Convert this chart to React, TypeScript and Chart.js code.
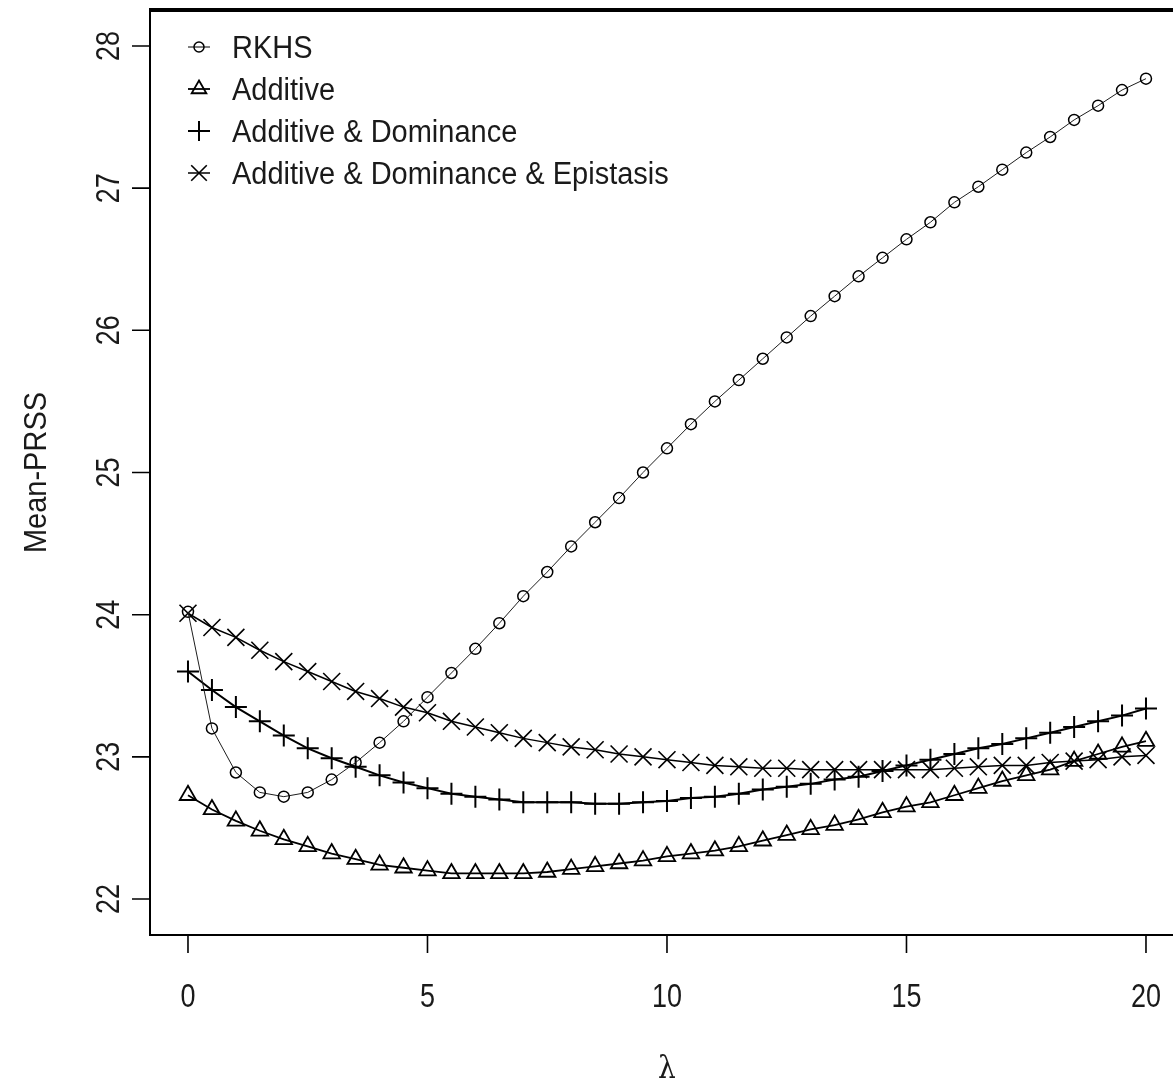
import React, { useEffect, useRef } from 'react';
import { Chart, registerables } from 'chart.js';
import { drawPoint } from 'chart.js/helpers';

Chart.register(...registerables);

// ---------- data ----------
const lambdas = [
  0, 0.5, 1, 1.5, 2, 2.5, 3, 3.5, 4, 4.5, 5, 5.5, 6, 6.5, 7, 7.5, 8, 8.5, 9, 9.5, 10,
  10.5, 11, 11.5, 12, 12.5, 13, 13.5, 14, 14.5, 15, 15.5, 16, 16.5, 17, 17.5, 18, 18.5, 19, 19.5, 20,
];

const rkhs = [
  24.02, 23.2, 22.89, 22.75, 22.72, 22.75, 22.84, 22.96, 23.1, 23.25, 23.42, 23.59, 23.76, 23.94, 24.13,
  24.3, 24.48, 24.65, 24.82, 25.0, 25.17, 25.34, 25.5, 25.65, 25.8, 25.95, 26.1, 26.24, 26.38, 26.51,
  26.64, 26.76, 26.9, 27.01, 27.13, 27.25, 27.36, 27.48, 27.58, 27.69, 27.77,
];

const additive = [
  22.73, 22.63, 22.55, 22.48, 22.42, 22.37, 22.32, 22.28, 22.24, 22.22, 22.2, 22.18, 22.18, 22.18, 22.18,
  22.19, 22.21, 22.23, 22.25, 22.27, 22.3, 22.32, 22.34, 22.37, 22.41, 22.45, 22.49, 22.52, 22.56, 22.61,
  22.65, 22.68, 22.73, 22.78, 22.83, 22.87, 22.91, 22.97, 23.02, 23.07, 23.11,
];

const addDom = [
  23.6, 23.47, 23.35, 23.25, 23.15, 23.06, 22.99, 22.93, 22.87, 22.82, 22.78, 22.74, 22.72, 22.7, 22.68,
  22.68, 22.68, 22.67, 22.67, 22.68, 22.69, 22.71, 22.72, 22.74, 22.77, 22.79, 22.81, 22.84, 22.86, 22.9,
  22.94, 22.98, 23.02, 23.06, 23.09, 23.13, 23.17, 23.21, 23.25, 23.29, 23.34,
];

const addDomEpi = [
  24.01, 23.91, 23.84, 23.75, 23.67, 23.6, 23.53, 23.46, 23.41, 23.35, 23.31, 23.25, 23.21, 23.17, 23.13,
  23.1, 23.07, 23.05, 23.02, 23.0, 22.98, 22.96, 22.94, 22.93, 22.92, 22.92, 22.91, 22.91, 22.91, 22.91,
  22.91, 22.91, 22.92, 22.93, 22.94, 22.94, 22.96, 22.97, 22.98, 23.0, 23.01,
];

const seriesNames = ['RKHS', 'Additive', 'Additive & Dominance', 'Additive & Dominance & Epistasis'];
const xTicks = [0, 5, 10, 15, 20];
const yTicks = [22, 23, 24, 25, 26, 27, 28];
const xTitle = 'λ';
const yTitle = 'Mean-PRSS';

// ---------- style ----------
const W = 1173;
const H = 1082;
const SANS = '"Liberation Sans", Arial, Helvetica, sans-serif';
const SERIF = '"DejaVu Serif", "Liberation Serif", serif';
const TEXT = '#1a1a1a';

const styles = [
  { pointStyle: 'circle', radius: 5.5, lineWidth: 1, pointBorderWidth: 1.5, legendRadius: 5 },
  { pointStyle: 'triangle', radius: 9.5, lineWidth: 1.8, pointBorderWidth: 1.8, legendRadius: 8.5 },
  { pointStyle: 'cross', radius: 11, lineWidth: 2, pointBorderWidth: 2, legendRadius: 10 },
  { pointStyle: 'crossRot', radius: 12, lineWidth: 1.5, pointBorderWidth: 1.6, legendRadius: 11 },
];

function drawText(
  ctx: CanvasRenderingContext2D,
  text: string,
  x: number,
  y: number,
  size: number,
  opts: { rotate?: boolean; align?: CanvasTextAlign; family?: string; sy?: number; capRatio?: number } = {}
) {
  const sy = opts.sy ?? 1.12;
  const cap = opts.capRatio ?? 0.716;
  ctx.save();
  ctx.translate(x, y);
  if (opts.rotate) ctx.rotate(-Math.PI / 2);
  ctx.scale(1, sy);
  ctx.font = `${size}px ${opts.family ?? SANS}`;
  ctx.fillStyle = TEXT;
  ctx.textAlign = opts.align ?? 'center';
  ctx.textBaseline = 'alphabetic';
  ctx.fillText(text, 0, (cap * size) / 2);
  ctx.restore();
}

const rPlot = {
  id: 'rPlot',
  beforeDatasetsDraw(chart: any) {
    const { ctx, chartArea } = chart;
    const { left, right, top, bottom } = chartArea;
    const xs = chart.scales.x;
    const ys = chart.scales.y;
    ctx.save();
    ctx.strokeStyle = '#000';
    ctx.lineCap = 'butt';
    // left + bottom box lines
    ctx.lineWidth = 2;
    ctx.beginPath();
    ctx.moveTo(left, top);
    ctx.lineTo(left, bottom);
    ctx.lineTo(right, bottom);
    ctx.stroke();
    // top line (thick)
    ctx.lineWidth = 4;
    ctx.beginPath();
    ctx.moveTo(left - 1, top);
    ctx.lineTo(right, top);
    ctx.stroke();
    // ticks
    ctx.lineWidth = 1.6;
    ctx.beginPath();
    yTicks.forEach((v) => {
      const py = ys.getPixelForValue(v);
      ctx.moveTo(left - 18, py);
      ctx.lineTo(left, py);
    });
    xTicks.forEach((v) => {
      const px = xs.getPixelForValue(v);
      ctx.moveTo(px, bottom);
      ctx.lineTo(px, bottom + 18);
    });
    ctx.stroke();
    ctx.restore();
  },
  afterDatasetsDraw(chart: any) {
    const { ctx, chartArea } = chart;
    const { left, top, bottom } = chartArea;
    const xs = chart.scales.x;
    const ys = chart.scales.y;
    // tick labels
    yTicks.forEach((v) => {
      drawText(ctx, String(v), left - 43, ys.getPixelForValue(v), 27, { rotate: true, sy: 1.2 });
    });
    xTicks.forEach((v) => {
      drawText(ctx, String(v), xs.getPixelForValue(v), bottom + 60, 27, { sy: 1.2 });
    });
    // titles
    const midX = xs.getPixelForValue((lambdas[0] + lambdas[lambdas.length - 1]) / 2);
    drawText(ctx, xTitle, midX, bottom + 131, 28, { family: SERIF, sy: 1.1, capRatio: 0.75 });
    drawText(ctx, yTitle, left - 115, (top + bottom) / 2, 29, { rotate: true, sy: 1.1 });

    // legend
    const lx = left + 49;
    const tx = left + 82;
    const ly0 = top + 37;
    const step = 42;
    seriesNames.forEach((name, i) => {
      const y = ly0 + i * step;
      const st = styles[i];
      ctx.save();
      ctx.strokeStyle = '#000';
      ctx.fillStyle = 'rgba(0,0,0,0)';
      ctx.lineWidth = st.lineWidth;
      ctx.beginPath();
      ctx.moveTo(lx - 11, y);
      ctx.lineTo(lx + 11, y);
      ctx.stroke();
      ctx.lineWidth = st.pointBorderWidth;
      drawPoint(ctx, { pointStyle: st.pointStyle as any, rotation: 0, radius: st.legendRadius, borderWidth: st.pointBorderWidth }, lx, y);
      ctx.restore();
      drawText(ctx, name, tx, y, 29, { align: 'left', sy: 1.1 });
    });
  },
};

export default function App() {
  const ref = useRef<HTMLCanvasElement | null>(null);

  useEffect(() => {
    if (!ref.current) return;
    const series = [rkhs, additive, addDom, addDomEpi];
    const chart = new Chart(ref.current, {
      type: 'line',
      data: {
        datasets: series.map((vals, i) => ({
          label: seriesNames[i],
          data: lambdas.map((x, j) => ({ x, y: vals[j] })),
          borderColor: i === 0 ? '#1e1e1e' : '#000',
          borderWidth: styles[i].lineWidth,
          pointStyle: styles[i].pointStyle as any,
          pointRadius: styles[i].radius,
          pointHoverRadius: styles[i].radius,
          pointBorderWidth: styles[i].pointBorderWidth,
          pointBorderColor: '#000',
          pointBackgroundColor: 'rgba(0,0,0,0)',
          tension: 0,
          fill: false,
        })),
      },
      options: {
        responsive: false,
        animation: false,
        events: [],
        layout: { autoPadding: false, padding: { top: 10, left: 0, right: 0, bottom: 0 } },
        plugins: { legend: { display: false }, tooltip: { enabled: false } },
        scales: {
          x: {
            type: 'linear',
            min: -0.793,
            max: 20.564,
            grid: { display: false },
            border: { display: false },
            ticks: { display: false },
            afterFit: (s: any) => {
              s.height = 147;
            },
          },
          y: {
            type: 'linear',
            min: 21.747,
            max: 28.253,
            grid: { display: false },
            border: { display: false },
            ticks: { display: false },
            afterFit: (s: any) => {
              s.width = 150;
            },
          },
        },
      },
      plugins: [rPlot],
    });
    return () => chart.destroy();
  }, []);

  return (
    <div style={{ position: 'fixed', left: 0, top: 0, width: W, height: H, background: '#fff' }}>
      <canvas ref={ref} width={W} height={H} style={{ display: 'block' }} />
    </div>
  );
}
